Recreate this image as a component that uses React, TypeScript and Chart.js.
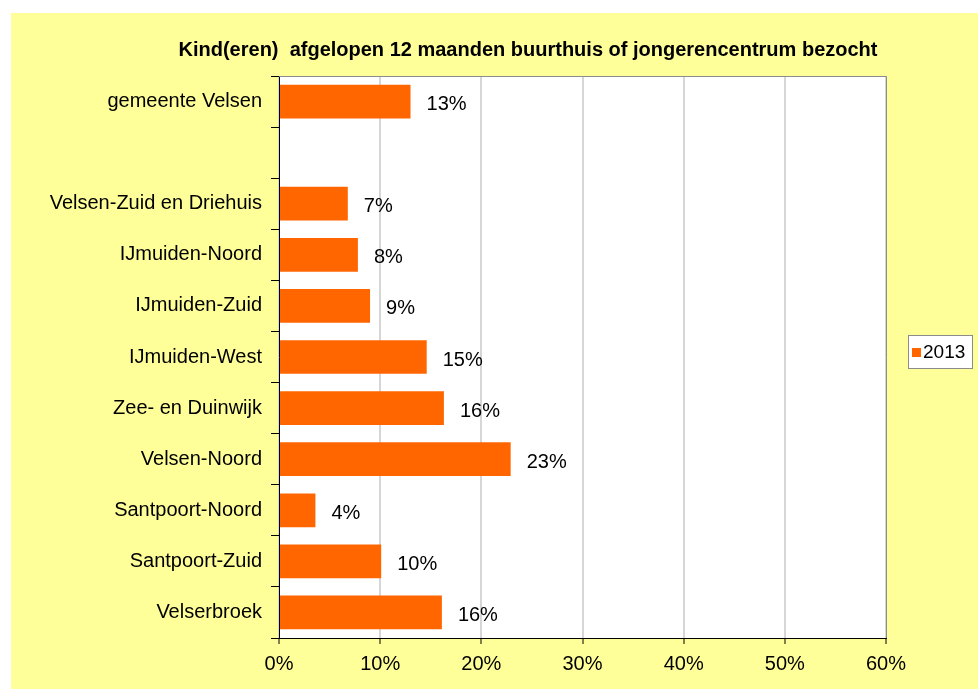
import React, { useEffect, useRef } from "react";
import { Chart, registerables } from "chart.js";

Chart.register(...registerables);

const TITLE = "Kind(eren)  afgelopen 12 maanden buurthuis of jongerencentrum bezocht";
const categories = [
  "gemeente Velsen",
  "",
  "Velsen-Zuid en Driehuis",
  "IJmuiden-Noord",
  "IJmuiden-Zuid",
  "IJmuiden-West",
  "Zee- en Duinwijk",
  "Velsen-Noord",
  "Santpoort-Noord",
  "Santpoort-Zuid",
  "Velserbroek",
];
const values2013 = [13.0, null, 6.8, 7.8, 9.0, 14.6, 16.3, 22.9, 3.6, 10.1, 16.1];
const valueLabels = ["13%", "", "7%", "8%", "9%", "15%", "16%", "23%", "4%", "10%", "16%"];
const seriesName = "2013";
const xMin = 0;
const xMax = 60;
const xStep = 10;

const FONT = "'Liberation Sans', Arial, Helvetica, sans-serif";
const BAR = "#FF6600";
const BG = "#FFFF99";
const FS = 20;

export default function App() {
  const ref = useRef<HTMLCanvasElement | null>(null);

  useEffect(() => {
    const canvas = ref.current;
    if (!canvas) return;

    const decor = {
      id: "decor",
      beforeDraw(chart: any) {
        const { ctx, chartArea } = chart;
        ctx.save();
        ctx.fillStyle = "#FFFFFF";
        ctx.fillRect(chartArea.left, chartArea.top, chartArea.right - chartArea.left, chartArea.bottom - chartArea.top);
        ctx.restore();
      },
      beforeDatasetsDraw(chart: any) {
        const { ctx, chartArea } = chart;
        ctx.save();
        ctx.strokeStyle = "#8C8C8C";
        ctx.lineWidth = 1;
        ctx.beginPath();
        ctx.moveTo(chartArea.left, chartArea.top + 0.5);
        ctx.lineTo(chartArea.right + 0.5, chartArea.top + 0.5);
        ctx.lineTo(chartArea.right + 0.5, chartArea.bottom);
        ctx.stroke();
        ctx.restore();
      },
      afterDatasetsDraw(chart: any) {
        const { ctx } = chart;
        const meta = chart.getDatasetMeta(0);
        ctx.save();
        ctx.fillStyle = "#000000";
        ctx.font = `${FS}px ${FONT}`;
        ctx.textAlign = "left";
        ctx.textBaseline = "middle";
        meta.data.forEach((bar: any, i: number) => {
          if (values2013[i] == null) return;
          ctx.fillText(valueLabels[i], bar.x + 16, bar.y + 3);
        });
        ctx.restore();
      },
      afterDraw(chart: any) {
        const { ctx } = chart;
        ctx.save();
        // title
        ctx.fillStyle = "#000000";
        ctx.font = `bold ${FS}px ${FONT}`;
        ctx.textAlign = "center";
        ctx.textBaseline = "middle";
        ctx.fillText(TITLE, 517, 37);
        // legend
        const bx = 897, by = 322, bw = 64, bh = 33;
        ctx.fillStyle = "#FFFFFF";
        ctx.fillRect(bx, by, bw, bh);
        ctx.strokeStyle = "#8C8C8C";
        ctx.lineWidth = 1;
        ctx.strokeRect(bx + 0.5, by + 0.5, bw, bh);
        ctx.fillStyle = BAR;
        ctx.fillRect(bx + 4, by + 13, 9, 9);
        ctx.fillStyle = "#000000";
        ctx.font = `19px ${FONT}`;
        ctx.textAlign = "left";
        ctx.textBaseline = "middle";
        ctx.fillText(seriesName, bx + 15, by + 18);
        ctx.restore();
      },
    };

    const chart = new Chart(canvas, {
      type: "bar",
      data: {
        labels: categories,
        datasets: [
          {
            label: seriesName,
            data: values2013 as any,
            backgroundColor: BAR,
            borderWidth: 0,
            barPercentage: 0.66,
            categoryPercentage: 1,
          },
        ],
      },
      options: {
        indexAxis: "y",
        responsive: false,
        animation: false,
        devicePixelRatio: 1,
        layout: { padding: { left: 0, right: 92, top: 63, bottom: 0 } },
        plugins: {
          legend: { display: false },
          title: { display: false },
          tooltip: { enabled: false },
        },
        scales: {
          x: {
            type: "linear",
            min: xMin,
            max: xMax,
            afterFit(scale: any) {
              scale.height = 51;
            },
            ticks: {
              stepSize: xStep,
              color: "#000000",
              font: { family: FONT, size: FS },
              padding: 8,
              callback: (v: any) => `${v}%`,
            },
            grid: {
              color: "#D6D6D6",
              lineWidth: 2,
              tickColor: "#000000",
              tickWidth: 1,
              tickLength: 6,
            },
            border: { display: true, color: "#000000", width: 1 },
          },
          y: {
            type: "category",
            afterFit(scale: any) {
              scale.width = 268;
            },
            ticks: {
              color: "#000000",
              font: { family: FONT, size: FS },
              padding: 9,
              autoSkip: false,
            },
            grid: {
              offset: true,
              drawOnChartArea: false,
              tickColor: "#000000",
              tickWidth: 1,
              tickLength: 8,
            },
            border: { display: true, color: "#000000", width: 1 },
          },
        },
      },
      plugins: [decor],
    });

    return () => chart.destroy();
  }, []);

  return (
    <div
      style={{
        position: "absolute",
        left: 11,
        top: 13,
        width: 967,
        height: 676,
        background: BG,
      }}
    >
      <canvas ref={ref} width={967} height={676} style={{ display: "block" }} />
    </div>
  );
}
